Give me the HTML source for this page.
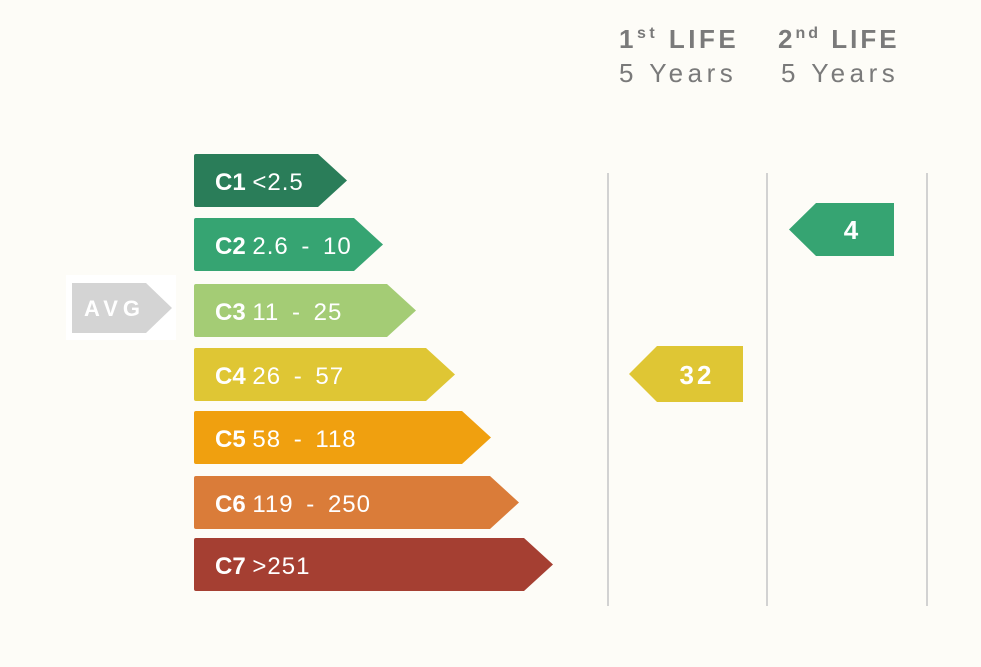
<!DOCTYPE html>
<html><head><meta charset="utf-8"><style>
html,body{margin:0;padding:0;background:#fdfcf7;}
svg{display:block;font-family:"Liberation Sans",sans-serif;}
</style></head><body>
<svg width="981" height="667" viewBox="0 0 981 667">
<rect width="981" height="667" fill="#fdfcf7"/>
<g font-size="26" fill="#7a7a7a">
<text x="619" y="48" font-weight="bold" letter-spacing="3.5">1<tspan font-size="16" dy="-10">st</tspan><tspan dy="10"> LIFE</tspan></text>
<text x="619" y="82" letter-spacing="4.5">5 Years</text>
<text x="778" y="48" font-weight="bold" letter-spacing="3">2<tspan font-size="16" dy="-10">nd</tspan><tspan dy="10"> LIFE</tspan></text>
<text x="781" y="82" letter-spacing="4.5">5 Years</text>
</g>
<g stroke="#d2d2d2" stroke-width="2">
<line x1="608" y1="173" x2="608" y2="606"/>
<line x1="767" y1="173" x2="767" y2="606"/>
<line x1="927" y1="173" x2="927" y2="606"/>
</g>
<rect x="66" y="275" width="110" height="65" fill="#ffffff"/>
<path d="M72 283 H146 L172 308 L146 333 H72 Z" fill="#d4d4d4"/>
<text x="84" y="316" font-size="22" font-weight="bold" fill="#fff" letter-spacing="5">AVG</text>
<g font-size="24" fill="#fff">
<path d="M196 154 H318 L347 180.5 L318 207 H196 Q194 207 194 205 V156 Q194 154 196 154Z" fill="#2a7d59"/>
<text x="215" y="190"><tspan font-weight="bold">C1</tspan> <tspan letter-spacing="1">&lt;2.5</tspan></text>
<path d="M196 218 H354 L383 244.5 L354 271 H196 Q194 271 194 269 V220 Q194 218 196 218Z" fill="#36a472"/>
<text x="215" y="254"><tspan font-weight="bold">C2</tspan> <tspan letter-spacing="1" word-spacing="5">2.6 - 10</tspan></text>
<path d="M196 284 H387 L416 310.5 L387 337 H196 Q194 337 194 335 V286 Q194 284 196 284Z" fill="#a4cc75"/>
<text x="215" y="320"><tspan font-weight="bold">C3</tspan> <tspan letter-spacing="1" word-spacing="5">11 - 25</tspan></text>
<path d="M196 348 H426 L455 374.5 L426 401 H196 Q194 401 194 399 V350 Q194 348 196 348Z" fill="#dfc634"/>
<text x="215" y="384"><tspan font-weight="bold">C4</tspan> <tspan letter-spacing="1" word-spacing="5">26 - 57</tspan></text>
<path d="M196 411 H462 L491 437.5 L462 464 H196 Q194 464 194 462 V413 Q194 411 196 411Z" fill="#f0a00f"/>
<text x="215" y="447"><tspan font-weight="bold">C5</tspan> <tspan letter-spacing="1" word-spacing="5">58 - 118</tspan></text>
<path d="M196 476 H490 L519 502.5 L490 529 H196 Q194 529 194 527 V478 Q194 476 196 476Z" fill="#da7c39"/>
<text x="215" y="512"><tspan font-weight="bold">C6</tspan> <tspan letter-spacing="1" word-spacing="5">119 - 250</tspan></text>
<path d="M196 538 H524 L553 564.5 L524 591 H196 Q194 591 194 589 V540 Q194 538 196 538Z" fill="#a53f32"/>
<text x="215" y="574"><tspan font-weight="bold">C7</tspan> <tspan letter-spacing="1">&gt;251</tspan></text>
</g>
<path d="M743 346 V402 H657 L629 374 L657 346 Z" fill="#dfc634"/>
<text x="697" y="384" font-size="26" font-weight="bold" fill="#fff" text-anchor="middle" letter-spacing="3">32</text>
<path d="M894 203 V256 H816 L789 229.5 L816 203 Z" fill="#36a472"/>
<text x="851" y="239" font-size="26" font-weight="bold" fill="#fff" text-anchor="middle">4</text>
</svg>
</body></html>
